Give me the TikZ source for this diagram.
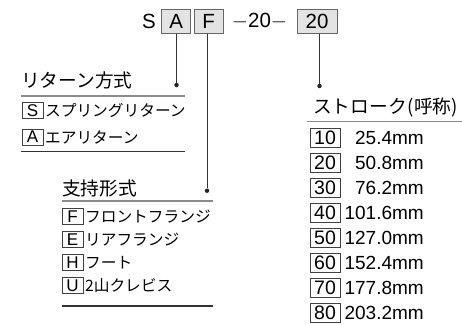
\documentclass[tikz,border=0pt]{standalone}
\usepackage{fontspec}
\setmainfont{Liberation Sans}
\newfontfamily\jp{Noto Sans CJK JP}
\usetikzlibrary{positioning}
\definecolor{boxGray}{rgb}{0.89 0.89 0.89}
\definecolor{ruleGray}{rgb}{0.55 0.55 0.55}

\tikzset{
  codebox/.style={draw=black!60, fill=boxGray, line width=0.9pt, minimum height=24pt, inner sep=0pt, font=\fontsize{20.5}{20.5}\selectfont},
  keybox/.style={draw=black!75, line width=0.8pt, minimum width=21pt, minimum height=16pt, inner sep=0pt, font=\fontsize{17}{17}\selectfont},
  strokebox/.style={draw=black!75, line width=0.8pt, minimum width=30pt, minimum height=19pt, inner sep=0pt, font=\fontsize{19.5}{19.5}\selectfont},
  itemtext/.style={anchor=west, inner sep=0pt, font=\jp\fontsize{15.7}{15.7}\selectfont},
  headtext/.style={anchor=west, inner sep=0pt, font=\jp\fontsize{18.7}{18.7}\selectfont},
  headrule/.style={ruleGray, line width=1.2pt},
  endrule/.style={black!80, line width=1.2pt},
  leader/.style={black!80, line width=0.8pt},
  dot/.style={circle, fill=black!85, inner sep=0pt, minimum size=4.5pt}
}

\begin{document}
\begin{tikzpicture}[x=1pt,y=-1pt]
\useasboundingbox (0,0) rectangle (462,324);

% the model code
\node[inner sep=0pt, font=\fontsize{20.5}{20.5}\selectfont] (s) at (149,21) {S};
\node[codebox, minimum width=29pt] (ca) at (176.2,21.3) {A};
\node[codebox, minimum width=29pt] (cf) at (208.7,21.3) {F};
\node[inner sep=0pt, font=\fontsize{20.5}{20.5}\selectfont] (dash) at (259.5,21) {$-$20$-$};
\node[codebox, minimum width=40pt] (cs) at (317,21.3) {20};

% leader dots
\node[dot] (dret) at (176.5,85) {};
\node[dot] (dsup) at (207,190.7) {};
\node[dot] (dstr) at (319.5,86) {};
\draw[leader] (dret |- ca.south) -- (dret);
\draw[leader] (dsup |- cf.south) -- (dsup);
\draw[leader] (dstr |- cs.south) -- (dstr);

% return type
\node[headtext] (rhead) at (21,80.5) {リターン方式};
\draw[headrule] (21,96) -- (185,96);
\foreach \k/\t [count=\ni] in {S/スプリングリターン, A/エアリターン}
{
  \node[keybox] (rk\ni) at (32.5,{110.5+26.5*(\ni-1)}) {\k};
  \node[itemtext, right=1.5pt of rk\ni] (rt\ni) {\t};
}
\draw[endrule] (21,151.5) -- (185,151.5);

% mounting type
\node[headtext] (shead) at (62,188) {支持形式};
\draw[headrule] (62,201) -- (213,201);
\foreach \k/\t [count=\ni] in {F/フロントフランジ, E/リアフランジ, H/フート, U/2山クレビス}
{
  \node[keybox] (sk\ni) at (72.5,{216.5+23*(\ni-1)}) {\k};
  \node[itemtext, right=1.5pt of sk\ni] (st\ni) {\t};
}
\draw[endrule] (62,306) -- (213,306);

% stroke
\node[headtext] (thead) at (313,107.5) {ストローク\kern1pt(呼称)};
\draw[headrule] (307,121.7) -- (462,121.7);
\foreach \k/\v [count=\ni] in {10/25.4, 20/50.8, 30/76.2, 40/101.6, 50/127.0, 60/152.4, 70/177.8, 80/203.2}
{
  \node[strokebox] (tk\ni) at (325,{137.5+25*(\ni-1)}) {\k};
  \node[anchor=east, inner sep=0pt, font=\fontsize{19}{19}\selectfont] (tv\ni) at (424,{137.5+25*(\ni-1)}) {\v mm};
}

\end{tikzpicture}
\end{document}
